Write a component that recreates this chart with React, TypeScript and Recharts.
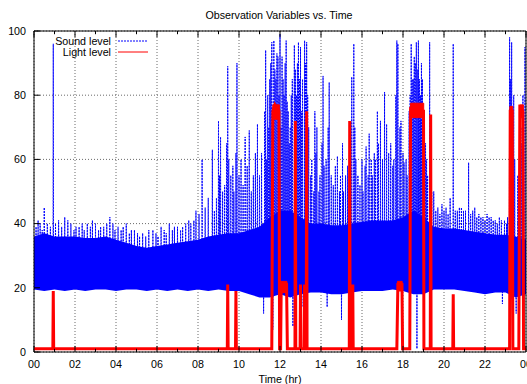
import React from 'react';
import {
  ComposedChart, XAxis, YAxis, CartesianGrid, Area, Line, ReferenceArea, ReferenceLine,
} from 'recharts';

const FONT = '"Liberation Sans", Arial, Helvetica, sans-serif';

// Dense band of the sound level (lower / upper envelope), every half hour
const BAND_HOURS = [0, 0.5, 1, 1.5, 2, 2.5, 3, 3.5, 4, 4.5, 5, 5.5, 6, 6.5, 7, 7.5, 8, 8.5, 9, 9.5, 10, 10.5, 11, 11.5, 12, 12.5, 13, 13.5, 14, 14.5, 15, 15.5, 16, 16.5, 17, 17.5, 18, 18.5, 19, 19.5, 20, 20.5, 21, 21.5, 22, 22.5, 23, 23.5, 24];
const SOUND_LOW = [19.5, 19, 19.5, 19, 19.5, 19, 19.5, 19.5, 19, 19.5, 19.5, 19, 19.5, 19, 19.5, 19, 19.5, 19, 19.5, 19, 19, 18, 17, 17, 18, 17, 18, 18.5, 18.5, 18, 18, 18.5, 19, 19, 19, 19.5, 19, 18, 18, 19.5, 19.5, 19.5, 19, 18.5, 18, 18.5, 18.5, 17, 18];
const SOUND_HIGH = [36, 37, 36, 36, 36, 35.5, 35.5, 36, 35, 34, 33, 32.5, 33, 33.5, 34, 34.5, 35, 36, 36.5, 37, 37, 38, 39, 42, 44, 44, 42, 40, 40, 39.5, 39.5, 40, 40.5, 41, 41, 41, 42, 44, 42, 39, 38.5, 38.5, 38, 37.5, 37, 36.5, 36.5, 36, 35];

// Isolated sound excursions (peaks above and dips below the band)
const SPIKE_HOURS = [
  0.1, 0.2, 0.3, 0.4, 0.5, 0.65, 0.8, 0.94, 1.05, 1.2, 1.35, 1.5, 1.65, 1.8, 1.95, 2.05, 2.2, 2.35, 2.45, 2.6, 2.75, 2.85, 3.0, 3.15, 3.25, 3.4, 3.55, 3.7, 3.85, 3.95,
  4.1, 4.25, 4.35, 4.5, 4.65, 4.75, 4.9, 5.05, 5.15, 5.3, 5.45, 5.6, 5.8, 5.95, 6.05, 6.2, 6.35, 6.45, 6.6, 6.75, 6.85, 7.0, 7.15, 7.25, 7.4, 7.55, 7.65, 7.8, 7.9, 8.05,
  8.2, 8.35, 8.5, 8.7, 8.8, 8.9, 9.0, 9.05, 9.1, 9.2, 9.3, 9.4, 9.45, 9.5, 9.6, 9.7, 9.75, 9.85, 9.9, 10.0, 10.1, 10.2, 10.3, 10.4, 10.5, 10.6, 10.7, 10.8, 10.9, 11.0, 11.1, 11.2, 11.25, 11.3, 11.35, 11.4, 11.45,
  11.5, 11.55, 11.6, 11.65, 11.7, 11.75, 11.8, 11.85, 11.9, 11.95, 12.0, 12.05, 12.1, 12.15, 12.2, 12.25, 12.3, 12.35, 12.4, 12.45, 12.5, 12.55, 12.6, 12.63, 12.7, 12.75, 12.8, 12.85, 12.9, 12.95, 13.0, 13.05, 13.1, 13.13, 13.2, 13.25, 13.3, 13.35, 13.4,
  13.5, 13.55, 13.65, 13.7, 13.75, 13.8, 13.9, 13.95, 14.05, 14.1, 14.15, 14.25, 14.3, 14.35, 14.4, 14.5, 14.6, 14.7, 14.8, 14.9, 14.95, 15.0, 15.05, 15.1, 15.2, 15.3, 15.4, 15.5, 15.6, 15.65, 15.7, 15.8, 15.9,
  16.0, 16.05, 16.15, 16.2, 16.3, 16.35, 16.45, 16.5, 16.6, 16.65, 16.75, 16.8, 16.9, 17.0, 17.1, 17.2, 17.3, 17.4, 17.5, 17.55, 17.65, 17.7, 17.75, 17.85, 17.9, 18.0, 18.05, 18.15, 18.2, 18.3,
  18.35, 18.4, 18.45, 18.5, 18.55, 18.6, 18.65, 18.68, 18.72, 18.75, 18.8, 18.85, 18.9, 18.95, 19.0, 19.05, 19.1, 19.15, 19.2, 19.3, 19.4,
  19.5, 19.6, 19.7, 19.8, 19.9, 20.0, 20.1, 20.2, 20.3, 20.45, 20.55, 20.65, 20.75, 20.85, 20.95, 21.05, 21.2, 21.3, 21.4, 21.5, 21.6, 21.7, 21.8, 21.9, 22.0, 22.1, 22.2, 22.3, 22.4, 22.5, 22.6, 22.7, 22.8, 22.85, 22.95, 23.05, 23.1,
  23.2, 23.25, 23.3, 23.4, 23.45, 23.52, 23.6, 23.7, 23.75, 23.8, 23.85, 23.9, 23.95,
];
const SPIKE_VALUES = [
  39, 41, 40, 38, 45, 40, 39, 96, 40, 41, 39, 42, 41, 40, 38, 39, 39, 40, 38, 40, 39, 41, 40, 38, 39, 39, 40, 42, 40, 38,
  39, 38, 39, 40, 37, 38, 38, 37, 36, 37, 36, 38, 38, 37, 36, 39, 38, 37, 40, 38, 39, 39, 38, 39, 40, 41, 40, 41, 44, 43,
  60, 45, 48, 63, 44, 48, 72, 55, 67, 50, 52, 65, 89, 60, 55, 58, 50, 62, 90, 55, 60, 52, 67, 58, 69, 50, 55, 62, 71, 55, 62, 12, 75, 94, 60, 80, 70,
  85, 90, 96.5, 7, 97, 88, 85, 93, 92, 80, 99, 70, 92, 85, 80, 90, 97, 78, 75, 65, 70, 80, 85, 8, 95.6, 88, 80, 90, 96.5, 85, 95, 75, 85, 14, 97, 90, 96.5, 80, 70,
  55, 60, 50, 75, 62, 70, 50, 55, 65, 86, 58, 60, 14, 70, 84, 55, 52, 58, 61, 50, 55, 10, 65, 50, 55, 58, 62, 85.7, 96, 70, 60, 55, 52,
  60, 50, 58, 64, 55, 68, 60, 55, 62, 60, 75, 65, 72, 60, 81, 71, 62, 65, 58, 60, 80, 97, 96, 70, 72, 62, 59, 60, 55, 75,
  80, 96, 85, 85, 92, 90, 96.5, 1, 88, 97, 85, 80, 90, 85, 75, 70, 65, 60, 55, 96.5, 50,
  50, 44, 45, 43, 46, 44, 45, 43, 48, 96, 44, 44, 45, 45, 44, 44, 59, 43, 44, 45, 42, 43, 42, 42, 41, 43, 42, 42, 41, 41, 40, 42, 41, 15, 41, 40, 42,
  98, 85, 96.5, 80, 60, 12, 55, 60, 70, 65, 80, 10, 95,
];

// Light level (piecewise readings)
const LIGHT_HOURS = [0, 0.92, 0.94, 0.96, 9.43, 9.45, 9.47, 9.83, 9.85, 9.87, 11.6, 11.65, 11.75, 11.95, 11.98, 12.03, 12.06, 12.32, 12.36, 12.73, 12.75, 12.77, 12.98, 13.0, 13.02, 13.18, 13.2, 13.22, 13.28, 13.3, 13.32, 15.38, 15.4, 15.42, 15.53, 15.55, 15.57, 17.7, 17.75, 17.95, 17.98, 18.33, 18.37, 18.5, 18.9, 19.0, 19.02, 19.33, 19.35, 19.37, 20.43, 20.45, 20.47, 23.2, 23.23, 23.33, 23.36, 23.65, 23.7, 23.85, 23.88, 24];
const LIGHT_VALUES = [1, 1, 19, 1, 1, 21, 1, 1, 19, 1, 1, 75, 77, 75, 1, 1, 21, 21, 1, 1, 72, 1, 1, 21, 1, 1, 21, 1, 1, 75, 1, 1, 72, 1, 1, 21, 1, 1, 21, 21, 1, 1, 76, 77, 75, 75, 1, 1, 74, 1, 1, 18, 1, 1, 75, 75, 1, 1, 76, 75, 1, 1];

// Spans where the light reading jitters within a narrow range
const LIGHT_BLOCK_START = [11.65, 12.04, 17.73, 18.37, 23.21, 23.68];
const LIGHT_BLOCK_END = [11.97, 12.34, 17.96, 19.01, 23.35, 23.87];
const LIGHT_BLOCK_LOW = [72.5, 18.5, 19, 73, 72, 73];
const LIGHT_BLOCK_HIGH = [77, 22, 22, 77.5, 76.5, 77];

const X_TICKS = [0, 2, 4, 6, 8, 10, 12, 14, 16, 18, 20, 22, 24];
const X_TICK_LABELS = ['00', '02', '04', '06', '08', '10', '12', '14', '16', '18', '20', '22', '00'];
const X_MINOR = [1, 3, 5, 7, 9, 11, 13, 15, 17, 19, 21, 23];
const Y_TICKS = [0, 20, 40, 60, 80, 100];

const SPIKE_BASE = 28;

const bandData = BAND_HOURS.map((h, i) => ({ h, range: [SOUND_LOW[i], SOUND_HIGH[i]] }));
const spikeData = (() => {
  const pts: { h: number; v: number }[] = [];
  SPIKE_HOURS.forEach((h, i) => {
    pts.push({ h: h - 0.01, v: SPIKE_BASE });
    pts.push({ h, v: SPIKE_VALUES[i] });
    pts.push({ h: h + 0.01, v: SPIKE_BASE });
  });
  return pts.sort((a, b) => a.h - b.h);
})();
const lightData = LIGHT_HOURS.map((h, i) => ({ h, v: LIGHT_VALUES[i] }));

const MARGIN = { top: 31, right: 1, bottom: 0, left: 0 };

export default function App() {
  return (
    <div style={{ position: 'absolute', left: 0, top: 0, width: 527, height: 384, background: '#fff' }}>
      {/* Layer 1: axes, grid and sound level */}
      <div style={{ position: 'absolute', left: 0, top: 0 }}>
        <ComposedChart width={527} height={384} margin={MARGIN}>
          <CartesianGrid stroke="#444" strokeDasharray="1 2" strokeWidth={0.8} />
          <XAxis
            dataKey="h"
            type="number"
            domain={[0, 24]}
            ticks={X_TICKS}
            interval={0}
            allowDataOverflow
            height={32}
            tickLine={false}
            axisLine={false}
            tick={{ fill: '#000', fontSize: 10.7, fontFamily: FONT }}
            tickFormatter={(v: number) => X_TICK_LABELS[X_TICKS.indexOf(v)]}
            label={{ value: 'Time (hr)', position: 'insideBottom', offset: 1, fill: '#000', fontSize: 10.7, fontFamily: FONT }}
          />
          <YAxis
            type="number"
            domain={[0, 100]}
            ticks={Y_TICKS}
            interval={0}
            allowDataOverflow
            width={34}
            tickLine={false}
            axisLine={false}
            tick={{ fill: '#000', fontSize: 10.7, fontFamily: FONT }}
          />
          <Area data={bandData} dataKey="range" type="linear" fill="#0000ff" fillOpacity={1} stroke="none" isAnimationActive={false} />
          <Line data={spikeData} dataKey="v" type="linear" stroke="#0000ff" strokeWidth={1} strokeDasharray="2 1" dot={false} isAnimationActive={false} />
        </ComposedChart>
      </div>
      {/* Layer 2: light level, ticks and frame on top */}
      <div style={{ position: 'absolute', left: 0, top: 0 }}>
        <ComposedChart width={527} height={384} margin={MARGIN}>
          <XAxis dataKey="h" type="number" domain={[0, 24]} ticks={X_TICKS} allowDataOverflow height={32} tick={false} tickLine={false} axisLine={false} />
          <YAxis type="number" domain={[0, 100]} ticks={Y_TICKS} allowDataOverflow width={34} tick={false} tickLine={false} axisLine={false} />
          {LIGHT_BLOCK_START.map((s, i) => (
            <ReferenceArea
              key={'lb' + i}
              x1={s}
              x2={LIGHT_BLOCK_END[i]}
              y1={LIGHT_BLOCK_LOW[i]}
              y2={LIGHT_BLOCK_HIGH[i]}
              fill="#ff0000"
              fillOpacity={1}
              stroke="#ff0000"
              strokeWidth={1}
              ifOverflow="visible"
            />
          ))}
          <Line data={lightData} dataKey="v" type="linear" stroke="#ff0000" strokeWidth={3} dot={false} isAnimationActive={false} />
          {X_TICKS.map((h) => (
            <ReferenceLine key={'xb' + h} segment={[{ x: h, y: 0 }, { x: h, y: 1.9 }]} stroke="#000" ifOverflow="visible" />
          ))}
          {X_TICKS.map((h) => (
            <ReferenceLine key={'xt' + h} segment={[{ x: h, y: 100 }, { x: h, y: 98.1 }]} stroke="#000" ifOverflow="visible" />
          ))}
          {X_MINOR.map((h) => (
            <ReferenceLine key={'mb' + h} segment={[{ x: h, y: 0 }, { x: h, y: 1 }]} stroke="#000" ifOverflow="visible" />
          ))}
          {X_MINOR.map((h) => (
            <ReferenceLine key={'mt' + h} segment={[{ x: h, y: 100 }, { x: h, y: 99 }]} stroke="#000" ifOverflow="visible" />
          ))}
          {Y_TICKS.map((v) => (
            <ReferenceLine key={'yl' + v} segment={[{ x: 0, y: v }, { x: 0.29, y: v }]} stroke="#000" ifOverflow="visible" />
          ))}
          <ReferenceArea x1={0} x2={24} y1={0} y2={100} fill="none" stroke="#000" strokeWidth={1} ifOverflow="visible" />
        </ComposedChart>
      </div>
      <svg width={527} height={384} style={{ position: 'absolute', left: 0, top: 0, pointerEvents: 'none' }}>
        <text x={279} y={18.5} textAnchor="middle" fontFamily={FONT} fontSize={10.7} fill="#000">Observation Variables vs. Time</text>
        <text x={111} y={44.5} textAnchor="end" fontFamily={FONT} fontSize={10.7} fill="#000">Sound level</text>
        <line x1={118} y1={41} x2={147} y2={41} stroke="#0000ff" strokeWidth={1} strokeDasharray="2 1" />
        <text x={111} y={55.5} textAnchor="end" fontFamily={FONT} fontSize={10.7} fill="#000">Light level</text>
        <line x1={118} y1={52} x2={148} y2={52} stroke="#ff0000" strokeWidth={1} />
      </svg>
    </div>
  );
}
